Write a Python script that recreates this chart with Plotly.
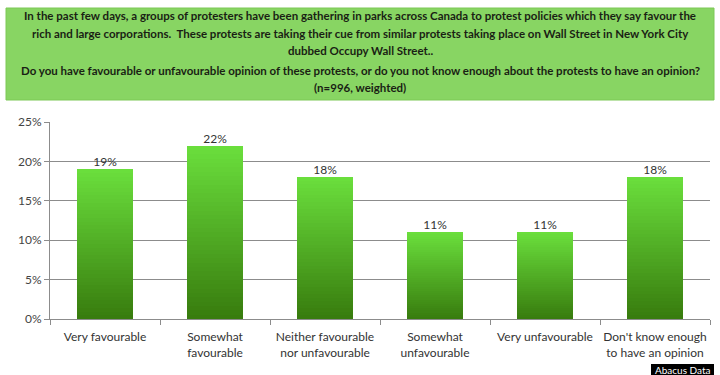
import plotly.graph_objects as go

categories = ["Very favourable", "Somewhat<br>favourable", "Neither favourable<br>nor unfavourable",
              "Somewhat<br>unfavourable", "Very unfavourable", "Don't know enough<br>to have an opinion"]
values = [19, 22, 18, 11, 11, 18]
tick_vals = [0, 5, 10, 15, 20, 25]
tick_text = ["0%", "5%", "10%", "15%", "20%", "25%"]
title_lines = [
    "In the past few days, a groups of protesters have been gathering in parks across Canada to protest policies which they say favour the",
    "rich and large corporations.  These protests are taking their cue from similar protests taking place on Wall Street in New York City",
    "dubbed Occupy Wall Street..",
    "Do you have favourable or unfavourable opinion of these protests, or do you not know enough about the protests to have an opinion?",
    "(n=996, weighted)",
]
title_y = [16, 33, 50, 70, 87]

FONT = "Lato"
N = 40
top_rgb = (0x6a, 0xde, 0x3c)
bot_rgb = (0x38, 0x7c, 0x0e)

fig = go.Figure()
for k in range(N):
    t = k / (N - 1)
    c = tuple(round(bot_rgb[i] + (top_rgb[i] - bot_rgb[i]) * t) for i in range(3))
    fig.add_trace(go.Bar(
        x=categories, y=[v / N for v in values],
        marker=dict(color="rgb(%d,%d,%d)" % c, line=dict(width=0)),
        width=0.51, showlegend=False, hoverinfo="skip"))

fig.add_trace(go.Scatter(
    x=categories, y=values, mode="text",
    text=[f"{v}%" for v in values], textposition="top center",
    textfont=dict(family=FONT, size=12, color="#333333"),
    showlegend=False, hoverinfo="skip", cliponaxis=False))

L, R, T, B = 50, 10, 122, 56
fig.update_layout(
    width=720, height=375,
    margin=dict(l=L, r=R, t=T, b=B, autoexpand=False),
    paper_bgcolor="white", plot_bgcolor="white",
    barmode="stack",
    font=dict(family=FONT, size=12, color="#333333"),
    xaxis=dict(type="category", showgrid=False, showline=True, linecolor="#8c8c8c", linewidth=1,
               ticks="outside", tickson="boundaries", ticklen=5, tickcolor="#8c8c8c",
               tickangle=0, automargin=False, ticklabelstandoff=7,
               tickfont=dict(family=FONT, size=12, color="#333333"), fixedrange=True),
    yaxis=dict(range=[0, 25], tickvals=tick_vals, ticktext=tick_text, showgrid=True,
               gridcolor="#8c8c8c", gridwidth=1, showline=True, linecolor="#8c8c8c", linewidth=1,
               ticks="outside", ticklen=5, tickcolor="#8c8c8c", zeroline=False, automargin=False,
               tickfont=dict(family=FONT, size=12, color="#444444"), fixedrange=True),
)

plot_w = 720 - L - R
plot_h = 375 - T - B
def px(x):
    return (x - L) / plot_w
def py(y):
    return (375 - B - y) / plot_h

fig.add_shape(type="rect", xref="paper", yref="paper", x0=px(6), x1=px(714), y0=py(100), y1=py(8),
              fillcolor="#88d563", line=dict(color="#7cc856", width=1), layer="below")
for line, y in zip(title_lines, title_y):
    fig.add_annotation(text="<b>" + line + "</b>", xref="paper", yref="paper", x=px(360), y=py(y),
                       xanchor="center", yanchor="middle", showarrow=False,
                       font=dict(family=FONT, size=11.5, color="#1a1f14"))

fig.add_shape(type="rect", xref="paper", yref="paper", x0=px(651), x1=px(714), y0=py(375), y1=py(364),
              fillcolor="black", line=dict(width=0))
fig.add_annotation(text="Abacus Data", xref="paper", yref="paper", x=px(682.5), y=py(369.5),
                   xanchor="center", yanchor="middle", showarrow=False,
                   font=dict(family=FONT, size=10, color="white"))

fig.write_html("out.html", config={"displayModeBar": False},
               post_script="document.body.style.margin='0';document.body.style.overflow='hidden';")
